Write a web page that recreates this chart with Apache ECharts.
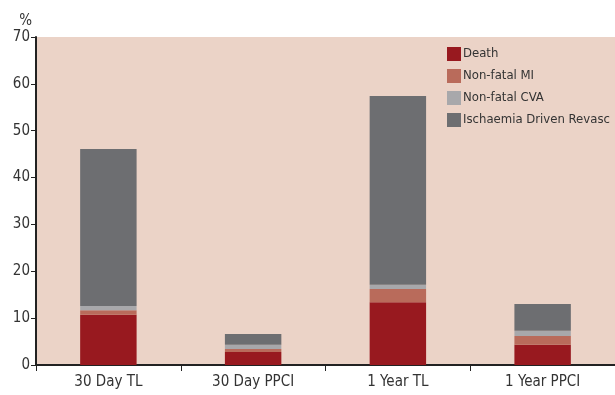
<!DOCTYPE html>
<html>
<head>
<meta charset="utf-8">
<script src="https://cdn.jsdelivr.net/npm/echarts@6/dist/echarts.min.js"></script>
<style>
  html, body { margin: 0; padding: 0; background: #fff; }
  #chart { width: 615px; height: 395px; }
</style>
</head>
<body>
<div id="chart"></div>
<script>
var categories = ['30 Day TL', '30 Day PPCI', '1 Year TL', '1 Year PPCI'];
var death = [10.7, 2.8, 13.4, 4.3];
var nonFatalMI = [1.0, 0.6, 2.8, 1.9];
var nonFatalCVA = [0.9, 0.9, 0.9, 1.1];
var revasc = [33.5, 2.3, 40.3, 5.7];
var yTicks = [0, 10, 20, 30, 40, 50, 60, 70];

var font = "'Liberation Sans Narrow', 'DejaVu Sans Condensed', sans-serif";

var myChart = echarts.init(document.getElementById('chart'));

function stackSeries(name, data, color) {
    return {
        name: name,
        type: 'bar',
        stack: 'total',
        barWidth: '39%',
        data: data,
        itemStyle: { color: color },
        emphasis: { disabled: true }
    };
}

var option = {
    animation: false,
    textStyle: { fontFamily: font },
    grid: {
        left: 36, right: 0, top: 37, bottom: 30,
        show: true,
        backgroundColor: '#ebd3c7',
        borderWidth: 0
    },
    legend: {
        orient: 'vertical',
        left: 442,
        top: 42,
        itemWidth: 14,
        itemHeight: 14,
        itemGap: 8,
        icon: 'rect',
        textStyle: { fontFamily: font, fontSize: 13, color: '#333', padding: [0, 0, 0, -3] },
        data: ['Death', 'Non-fatal MI', 'Non-fatal CVA', 'Ischaemia Driven Revasc']
    },
    xAxis: {
        type: 'category',
        data: categories,
        axisLine: { lineStyle: { color: '#222', width: 2 } },
        axisTick: { show: true, length: 6, lineStyle: { color: '#222', width: 1 } },
        axisLabel: { fontFamily: font, fontSize: 15, color: '#333', margin: 10 }
    },
    yAxis: {
        type: 'value',
        min: yTicks[0],
        max: yTicks[yTicks.length - 1],
        interval: 10,
        name: '%',
        nameLocation: 'end',
        nameGap: 8,
        nameTextStyle: { fontFamily: font, fontSize: 15, color: '#333', align: 'right', padding: [0, 4, 0, 0] },
        splitLine: { show: false },
        axisLine: { show: true, lineStyle: { color: '#222', width: 2 } },
        axisTick: { show: true, length: 5, lineStyle: { color: '#222', width: 1 } },
        axisLabel: { fontFamily: font, fontSize: 15, color: '#333', margin: 6 }
    },
    series: [
        stackSeries('Death', death, '#98191f'),
        stackSeries('Non-fatal MI', nonFatalMI, '#b96b5b'),
        stackSeries('Non-fatal CVA', nonFatalCVA, '#a8a8ab'),
        stackSeries('Ischaemia Driven Revasc', revasc, '#6d6e71')
    ]
};

myChart.setOption(option);
</script>
</body>
</html>
